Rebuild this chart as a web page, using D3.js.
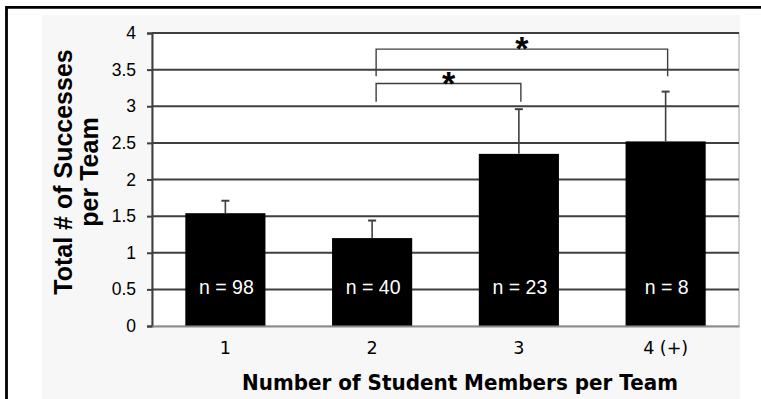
<!DOCTYPE html>
<html>
<head>
<meta charset="utf-8">
<script src="https://cdn.jsdelivr.net/npm/d3@7"></script>
<style>
  html, body { margin: 0; padding: 0; background: #ffffff; }
  svg { display: block; }
</style>
</head>
<body>
<svg id="chart" width="761" height="399"></svg>
<script>
// Team size categories and their mean successes per team
const categories = ["1", "2", "3", "4 (+)"];
const meanSuccesses = [1.54, 1.20, 2.35, 2.52];
const errorAbove = [0.17, 0.24, 0.61, 0.68];
const teamCounts = [98, 40, 23, 8];
const yTickValues = [0, 0.5, 1, 1.5, 2, 2.5, 3, 3.5, 4];

// Significance brackets (in data units)
const sigFrom = ["2", "2"];
const sigTo = ["4 (+)", "3"];
const sigTop = [3.78, 3.31];
const sigLeg = [3.41, 3.06];

const svg = d3.select("#chart");

const plot = { left: 152, right: 739, top: 33, bottom: 326 };

// outer frame and light panel
svg.append("rect")
  .attr("x", 42).attr("y", 15).attr("width", 698).attr("height", 384)
  .attr("fill", "#f7f7f7");
svg.append("path")
  .attr("d", "M6.5,399 V7.3 H761")
  .attr("fill", "none").attr("stroke", "#000").attr("stroke-width", 2.8);

const x = d3.scaleBand()
  .domain(categories)
  .range([plot.left, plot.right])
  .paddingInner(0.454)
  .paddingOuter(0.227);

const y = d3.scaleLinear()
  .domain([0, 4])
  .range([plot.bottom, plot.top]);

// plot area
svg.append("rect")
  .attr("x", plot.left).attr("y", plot.top)
  .attr("width", plot.right - plot.left).attr("height", plot.bottom - plot.top)
  .attr("fill", "#ffffff")
  .attr("stroke", "#a6a6a6").attr("stroke-width", 1);

// horizontal gridlines
svg.append("g")
  .selectAll("line")
  .data(yTickValues.filter(d => d > 0))
  .join("line")
  .attr("x1", plot.left).attr("x2", plot.right)
  .attr("y1", d => y(d)).attr("y2", d => y(d))
  .attr("stroke", "#3f3f3f").attr("stroke-width", 2);

// y axis
const yAxis = svg.append("g")
  .attr("transform", `translate(${plot.left},0)`)
  .call(d3.axisLeft(y).tickValues(yTickValues).tickFormat(d3.format("~g"))
    .tickSize(5).tickPadding(11));
yAxis.select(".domain").attr("stroke", "#3f3f3f").attr("stroke-width", 2);
yAxis.selectAll(".tick line").attr("stroke", "#3f3f3f").attr("stroke-width", 2);
yAxis.selectAll(".tick text")
  .attr("font-family", "'Liberation Sans', Arial, sans-serif")
  .attr("font-size", 17.5).attr("fill", "#000");

// bars
svg.append("g")
  .selectAll("rect")
  .data(categories)
  .join("rect")
  .attr("x", d => x(d))
  .attr("y", (d, i) => y(meanSuccesses[i]))
  .attr("width", x.bandwidth())
  .attr("height", (d, i) => y(0) - y(meanSuccesses[i]))
  .attr("fill", "#000");

// x axis
const xAxis = svg.append("g")
  .attr("transform", `translate(0,${plot.bottom})`)
  .call(d3.axisBottom(x).tickSize(0).tickPadding(16));
xAxis.select(".domain").attr("stroke", "#8c8c8c").attr("stroke-width", 2);
xAxis.selectAll(".tick text")
  .attr("font-family", "'DejaVu Sans', Verdana, sans-serif")
  .attr("font-size", 17.5).attr("fill", "#000");

// error bars (upper only)
const err = svg.append("g").attr("stroke", "#3f3f3f");
categories.forEach((c, i) => {
  const cx = x(c) + x.bandwidth() / 2;
  const top = y(meanSuccesses[i] + errorAbove[i]);
  err.append("line")
    .attr("x1", cx).attr("x2", cx)
    .attr("y1", y(meanSuccesses[i])).attr("y2", top)
    .attr("stroke-width", 1.6);
  err.append("line")
    .attr("x1", cx - 4).attr("x2", cx + 4)
    .attr("y1", top).attr("y2", top)
    .attr("stroke-width", 2);
});

// team counts inside bars
svg.append("g")
  .selectAll("text")
  .data(categories)
  .join("text")
  .attr("x", d => x(d) + x.bandwidth() / 2 + 1)
  .attr("y", y(0) - 32)
  .attr("text-anchor", "middle")
  .attr("font-family", "'Liberation Sans', Arial, sans-serif")
  .attr("font-size", 19.5)
  .attr("fill", "#fff")
  .text((d, i) => `n = ${teamCounts[i]}`);

// significance brackets
const br = svg.append("g");
sigFrom.forEach((f, i) => {
  const x1 = x(f) + x.bandwidth() / 2 + 4;
  const x2 = x(sigTo[i]) + x.bandwidth() / 2 + 2;
  const yt = y(sigTop[i]);
  const yl = y(sigLeg[i]);
  br.append("path")
    .attr("d", `M${x1},${yl} V${yt} H${x2} V${yl}`)
    .attr("fill", "none")
    .attr("stroke", "#3f3f3f")
    .attr("stroke-width", 1.4);
  br.append("text")
    .attr("x", (x1 + x2) / 2)
    .attr("y", yt + 11)
    .attr("text-anchor", "middle")
    .attr("font-family", "'Liberation Sans', Arial, sans-serif")
    .attr("font-weight", "bold")
    .attr("font-size", 34)
    .attr("fill", "#000")
    .text("*");
});

// y axis title (two lines)
const yTitle = svg.append("text")
  .attr("transform", "translate(0,172) rotate(-90)")
  .attr("text-anchor", "middle")
  .attr("font-family", "'Liberation Sans', Arial, sans-serif")
  .attr("font-weight", "bold")
  .attr("font-size", 25)
  .attr("fill", "#000");
yTitle.append("tspan").attr("x", 0).attr("y", 72).text("Total # of Successes");
yTitle.append("tspan").attr("x", 0).attr("y", 98).text("per Team");

// x axis title
const xTitle = svg.append("text")
  .attr("x", 460)
  .attr("y", 390)
  .attr("text-anchor", "middle")
  .attr("font-family", "'DejaVu Sans', Verdana, sans-serif")
  .attr("font-weight", "bold")
  .attr("font-size", 20.5)
  .attr("fill", "#000")
  .text("Number of Student Members per Team");
const wanted = 436;
if (xTitle.node().getComputedTextLength() > wanted) {
  xTitle.attr("textLength", wanted).attr("lengthAdjust", "spacingAndGlyphs");
}
</script>
</body>
</html>
